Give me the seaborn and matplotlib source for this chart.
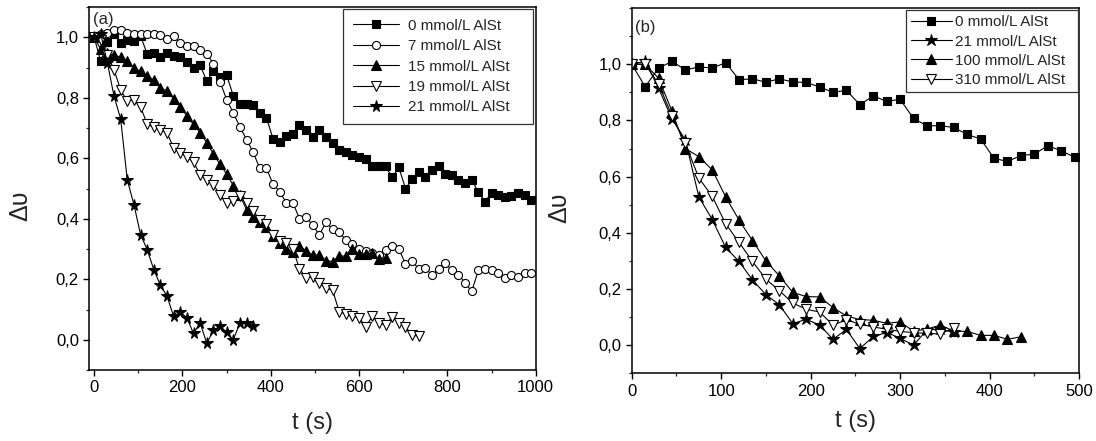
import numpy as np
import pandas as pd
import matplotlib
matplotlib.use("Agg")
import matplotlib.pyplot as plt
import seaborn as sns
from matplotlib.ticker import MultipleLocator, FuncFormatter

# sampling times (s), 15 s grid
t_s = [0, 15, 30, 45, 60, 75, 90, 105, 120, 135, 150, 165, 180, 195, 210, 225, 240,
       255, 270, 285, 300, 315, 330, 345, 360, 375, 390, 405, 420, 435, 450, 465,
       480, 495, 510, 525, 540, 555, 570, 585, 600, 615, 630, 645, 660, 675, 690,
       705, 720, 735, 750, 765, 780, 795, 810, 825, 840, 855, 870, 885, 900, 915,
       930, 945, 960, 975, 990]

# Panel (a)
v_0mmol = [1.0, 0.92, 0.986, 1.01, 0.98, 0.99, 0.987, 1.005, 0.945, 0.948,
           0.936, 0.948, 0.937, 0.935, 0.919, 0.90, 0.907, 0.856, 0.887, 0.868,
           0.875, 0.807, 0.781, 0.781, 0.775, 0.75, 0.734, 0.665, 0.654, 0.675,
           0.68, 0.71, 0.692, 0.669, 0.692, 0.67, 0.652, 0.628, 0.622, 0.612,
           0.605, 0.598, 0.573, 0.573, 0.573, 0.537, 0.57, 0.50, 0.53, 0.555,
           0.539, 0.561, 0.574, 0.548, 0.545, 0.528, 0.519, 0.528, 0.489, 0.456,
           0.486, 0.479, 0.473, 0.475, 0.486, 0.479, 0.462]
v_7mmol = [1.0, 1.01, 1.015, 1.025, 1.025, 1.015, 1.01, 1.012, 1.01, 1.012,
           1.007, 0.995, 1.003, 0.98, 0.97, 0.97, 0.957, 0.946, 0.913, 0.853,
           0.794, 0.75, 0.704, 0.662, 0.62, 0.567, 0.567, 0.515, 0.49, 0.453,
           0.453, 0.40, 0.407, 0.378, 0.347, 0.388, 0.367, 0.355, 0.33, 0.315,
           0.30, 0.295, 0.286, 0.28, 0.296, 0.31, 0.30, 0.251, 0.262, 0.233,
           0.236, 0.215, 0.233, 0.255, 0.229, 0.215, 0.189, 0.16, 0.229, 0.233,
           0.229, 0.222, 0.203, 0.215, 0.207, 0.222, 0.222]
v_15mmol = [1.0, 0.96, 0.947, 0.94, 0.935, 0.92, 0.90, 0.887, 0.873, 0.858,
            0.833, 0.822, 0.797, 0.77, 0.74, 0.712, 0.685, 0.652, 0.614, 0.58,
            0.548, 0.51, 0.478, 0.43, 0.405, 0.388, 0.374, 0.342, 0.32, 0.30,
            0.29, 0.31, 0.294, 0.28, 0.28, 0.262, 0.258, 0.276, 0.277, 0.30,
            0.282, 0.283, 0.287, 0.266, 0.27]
v_19mmol = [1.0, 0.99, 0.94, 0.893, 0.825, 0.79, 0.793, 0.77, 0.713, 0.702,
            0.695, 0.684, 0.635, 0.618, 0.605, 0.588, 0.545, 0.528, 0.512, 0.48,
            0.451, 0.46, 0.474, 0.452, 0.427, 0.396, 0.383, 0.347, 0.328, 0.321,
            0.30, 0.235, 0.204, 0.208, 0.186, 0.171, 0.164, 0.092, 0.086, 0.077,
            0.073, 0.043, 0.078, 0.056, 0.048, 0.076, 0.054, 0.042, 0.016, 0.011]
v_21mmol = [1.0, 1.01, 0.915, 0.805, 0.73, 0.528, 0.447, 0.348, 0.298, 0.232,
            0.18, 0.144, 0.077, 0.092, 0.072, 0.021, 0.056, -0.012, 0.031, 0.045,
            0.025, 0.0, 0.055, 0.056, 0.047]

# Panel (b)
v_b_0mmol = v_0mmol[:34]
v_b_21mmol = v_21mmol
v_b_100mmol = [1.0, 1.0, 0.95, 0.833, 0.70, 0.671, 0.624, 0.528, 0.445, 0.372,
               0.30, 0.247, 0.188, 0.173, 0.172, 0.134, 0.104, 0.091, 0.089, 0.078,
               0.083, 0.05, 0.057, 0.072, 0.05, 0.049, 0.035, 0.035, 0.021, 0.03]
v_b_310mmol = [1.0, 1.0, 0.93, 0.816, 0.718, 0.595, 0.53, 0.432, 0.366, 0.298,
               0.235, 0.194, 0.15, 0.128, 0.118, 0.072, 0.09, 0.075, 0.065, 0.057,
               0.049, 0.045, 0.042, 0.04, 0.062]

labels_a = ["0 mmol/L AlSt", "7 mmol/L AlSt", "15 mmol/L AlSt",
            "19 mmol/L AlSt", "21 mmol/L AlSt"]
labels_b = ["0 mmol/L AlSt", "21 mmol/L AlSt", "100 mmol/L AlSt",
            "310 mmol/L AlSt"]

sns.set_theme(style="ticks")
plt.rcParams["font.family"] = ["Liberation Sans", "DejaVu Sans"]
plt.rcParams["axes.linewidth"] = 1.1
plt.rcParams["xtick.direction"] = "out"
plt.rcParams["ytick.direction"] = "out"

fig = plt.figure(figsize=(10.96, 4.41), dpi=100)
ax1 = fig.add_axes([0.0815, 0.161, 0.4073, 0.823])
ax2 = fig.add_axes([0.5764, 0.1535, 0.4081, 0.8283])

styles = {
    "s": dict(marker="s", markerfacecolor="black"),
    "o": dict(marker="o", markerfacecolor="white"),
    "^": dict(marker="^", markerfacecolor="black"),
    "v": dict(marker="v", markerfacecolor="white"),
    "*": dict(marker="*", markerfacecolor="black"),
}


def draw(ax, vals, key, label, ms):
    df = pd.DataFrame({"t": t_s[:len(vals)], "v": vals})
    sns.lineplot(data=df, x="t", y="v", ax=ax, color="black", lw=0.8,
                 markeredgecolor="black", markeredgewidth=0.8, markersize=ms,
                 label=label, estimator=None, sort=False, **styles[key])


ms_a = {"s": 5.6, "o": 5.8, "^": 6.8, "v": 6.8, "*": 8.5}
for vals, key, lab in zip([v_0mmol, v_7mmol, v_15mmol, v_19mmol, v_21mmol],
                          ["s", "o", "^", "v", "*"], labels_a):
    draw(ax1, vals, key, lab, ms_a[key])

ms_b = {"s": 6.2, "*": 9.0, "^": 7.4, "v": 7.4}
for vals, key, lab in zip([v_b_0mmol, v_b_21mmol, v_b_100mmol, v_b_310mmol],
                          ["s", "*", "^", "v"], labels_b):
    draw(ax2, vals, key, lab, ms_b[key])

comma = FuncFormatter(lambda v, p: f"{v:.1f}".replace(".", ","))
plain = FuncFormatter(lambda v, p: f"{v:.0f}")

ax1.set_xlim(-11, 1000)
ax1.set_ylim(-0.1, 1.1)
ax1.xaxis.set_major_locator(MultipleLocator(200))
ax1.xaxis.set_minor_locator(MultipleLocator(100))
ax2.set_xlim(0, 500)
ax2.set_ylim(-0.1, 1.2)
ax2.xaxis.set_major_locator(MultipleLocator(100))
ax2.xaxis.set_minor_locator(MultipleLocator(50))

panel = [(ax1, "(a)", 0.967, (-0.128, 0.452), 12),
         (ax2, "(b)", 0.948, (-0.136, 0.4525), 8)]
for ax, lab, lab_y, ylab_xy, xpad in panel:
    ax.set_yticks([0.0, 0.2, 0.4, 0.6, 0.8, 1.0])
    ax.yaxis.set_minor_locator(MultipleLocator(0.1))
    ax.yaxis.set_major_formatter(comma)
    ax.xaxis.set_major_formatter(plain)
    ax.tick_params(which="major", length=4.5, width=1.0, labelsize=12, pad=3,
                   colors="black")
    ax.tick_params(which="minor", length=2.5, width=0.9)
    for sp in ax.spines.values():
        sp.set_visible(True)
        sp.set_color("black")
    ax.set_xlabel("t (s)", fontsize=17, labelpad=xpad)
    ax.set_ylabel("Δυ", fontsize=18)
    ax.yaxis.set_label_coords(*ylab_xy)
    ax.text(0.008, lab_y, lab, transform=ax.transAxes, fontsize=12,
            ha="left", va="center")

leg1 = ax1.legend(loc="upper left", bbox_to_anchor=(0.5677, 0.995, 0.4263, 0),
                  mode="expand", borderaxespad=0, fontsize=11, frameon=True,
                  fancybox=False, edgecolor="#333333", framealpha=1,
                  handlelength=3.0, handletextpad=0.6, labelspacing=0.42,
                  borderpad=0.65)
leg1.get_frame().set_linewidth(0.9)
leg2 = ax2.legend(loc="upper left", bbox_to_anchor=(0.6125, 0.9945, 0.3855, 0),
                  mode="expand", borderaxespad=0, fontsize=11, frameon=True,
                  fancybox=False, edgecolor="#333333", framealpha=1,
                  handlelength=2.65, handletextpad=0.25, labelspacing=0.34,
                  borderpad=0.35)
leg2.get_frame().set_linewidth(0.9)

fig.savefig("out.png", dpi=100)
